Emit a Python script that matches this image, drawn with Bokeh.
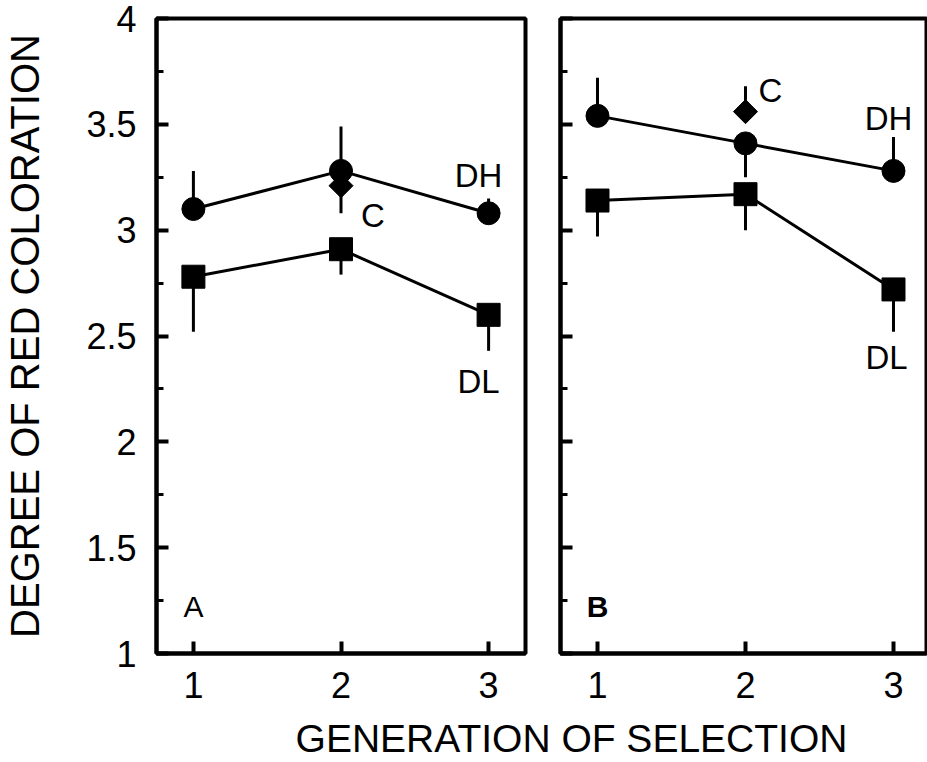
import math
from bokeh.plotting import figure
from bokeh.layouts import row, column
from bokeh.models import (SingleIntervalTicker, FixedTicker, NumeralTickFormatter,
                          CustomJSTickFormatter, Label, Range1d)
from bokeh.core.properties import value
from bokeh.embed import file_html
from bokeh.resources import INLINE

# ---------------- data ----------------
generation = [1, 2, 3]
y_title = "DEGREE OF RED COLORATION"
x_title = "GENERATION OF SELECTION"

# Panel A
a_dh = [3.10, 3.28, 3.08]
a_dh_err = [0.18, 0.21, 0.07]        # signed: + upward bar
a_dl = [2.78, 2.91, 2.60]
a_dl_err = [-0.26, -0.12, -0.17]     # signed: - downward bar
a_c_gen = [2]
a_c = [3.21]
a_c_err = [-0.13]

# Panel B
b_dh = [3.54, 3.41, 3.28]
b_dh_err = [0.18, -0.16, 0.16]
b_dl = [3.14, 3.17, 2.72]
b_dl_err = [-0.17, -0.17, -0.20]
b_c_gen = [2]
b_c = [3.56]
b_c_err = [0.12]

FONT = "Liberation Sans"


def style(p, show_labels):
    p.xgrid.visible = False
    p.ygrid.visible = False
    p.outline_line_color = "black"
    p.outline_line_width = 4
    p.background_fill_color = "white"
    p.border_fill_color = "white"
    xa = p.xaxis[0]
    xa.ticker = FixedTicker(ticks=generation, minor_ticks=[])
    xa.major_tick_in = 12
    xa.major_tick_out = 0
    xa.minor_tick_in = 0
    xa.minor_tick_out = 0
    xa.axis_line_width = 4
    xa.major_tick_line_width = 4
    xa.major_label_text_font = FONT
    xa.major_label_text_font_size = "36px"
    xa.major_label_text_color = "black"
    xa.major_label_standoff = 18
    ya = p.yaxis[0]
    ya.ticker = SingleIntervalTicker(interval=0.5, num_minor_ticks=2)
    ya.major_tick_in = 12
    ya.major_tick_out = 0
    ya.minor_tick_in = 7
    ya.minor_tick_out = 0
    ya.axis_line_width = 4
    ya.major_tick_line_width = 4
    ya.minor_tick_line_width = 3
    ya.major_label_text_font = FONT
    ya.major_label_text_color = "black"
    if show_labels:
        ya.formatter = NumeralTickFormatter(format="0.[0]")
        ya.major_label_text_font_size = "36px"
        ya.major_label_standoff = 20
        ya.axis_label = y_title
        ya.axis_label_text_font = FONT
        ya.axis_label_text_font_size = "40px"
        ya.axis_label_text_font_style = "normal"
        ya.axis_label_text_color = "black"
        ya.axis_label_standoff = 36
    else:
        ya.formatter = CustomJSTickFormatter(code="return ''")
        ya.major_label_text_font_size = "10px"
        ya.major_label_standoff = 0


def draw(p, dh, dh_err, dl, dl_err, c_gen, c, c_err, labels, letter, letter_bold):
    # error bars
    p.segment(x0=generation, y0=dh, x1=generation,
              y1=[v + e for v, e in zip(dh, dh_err)], line_color="black", line_width=3)
    p.segment(x0=generation, y0=dl, x1=generation,
              y1=[v + e for v, e in zip(dl, dl_err)], line_color="black", line_width=3)
    p.segment(x0=c_gen, y0=c, x1=c_gen,
              y1=[v + e for v, e in zip(c, c_err)], line_color="black", line_width=3)
    # lines
    p.line(generation, dh, line_color="black", line_width=3)
    p.line(generation, dl, line_color="black", line_width=3)
    # markers
    p.scatter(c_gen, c, marker="square", angle=math.pi / 4, size=17,
              fill_color="black", line_color="black")
    p.scatter(generation, dh, marker="circle", size=23, fill_color="black", line_color="black")
    p.scatter(generation, dl, marker="square", size=23, fill_color="black", line_color="black")
    # series labels
    for (txt, xs, ys, dx, dy) in labels:
        p.text(x=xs, y=ys, text=[txt], x_offset=dx, y_offset=dy,
               text_align="center", text_baseline="middle",
               text_font=value(FONT), text_font_size="33px", text_color="black")
    p.add_layout(Label(x=1.0, y=1.22, text=letter, text_align="center",
                       text_baseline="middle", text_font=FONT, text_font_size="30px",
                       text_font_style="bold" if letter_bold else "normal",
                       text_color="black"))


H = 714
p1 = figure(width=540, height=H, x_range=Range1d(0.75, 3.25), y_range=Range1d(1, 4),
            output_backend="svg", toolbar_location=None, title=None,
            min_border_left=155, min_border_right=15, min_border_top=18, min_border_bottom=61)
style(p1, True)
draw(p1, a_dh, a_dh_err, a_dl, a_dl_err, a_c_gen, a_c, a_c_err,
     [("DH", [generation[2]], [a_dh[2]], -10, -38),
      ("C", [a_c_gen[0]], [a_c[0]], 32, 30),
      ("DL", [generation[2]], [a_dl[2]], -10, 67)],
     "A", False)

p2 = figure(width=387, height=H, x_range=Range1d(0.75, 3.223), y_range=Range1d(1, 4),
            output_backend="svg", toolbar_location=None, title=None,
            min_border_left=20, min_border_right=1, min_border_top=18, min_border_bottom=61)
style(p2, False)
draw(p2, b_dh, b_dh_err, b_dl, b_dl_err, b_c_gen, b_c, b_c_err,
     [("C", [b_c_gen[0]], [b_c[0]], 25, -21),
      ("DH", [generation[2]], [b_dh[2]], -5, -52),
      ("DL", [generation[2]], [b_dl[2]], -7, 68)],
     "B", True)

p3 = figure(width=927, height=762 - H, x_range=Range1d(0, 927), y_range=Range1d(0, 762 - H),
            output_backend="svg", toolbar_location=None, title=None,
            x_axis_type=None, y_axis_type=None, min_border=0)
p3.xgrid.visible = False
p3.ygrid.visible = False
p3.outline_line_color = None
p3.add_layout(Label(x=571, y=24, text=x_title, text_align="center", text_baseline="middle",
                    text_font=FONT, text_font_size="39px", text_color="black"))

layout = column(row(p1, p2), p3)
open("out.html", "w").write(file_html(layout, INLINE))
